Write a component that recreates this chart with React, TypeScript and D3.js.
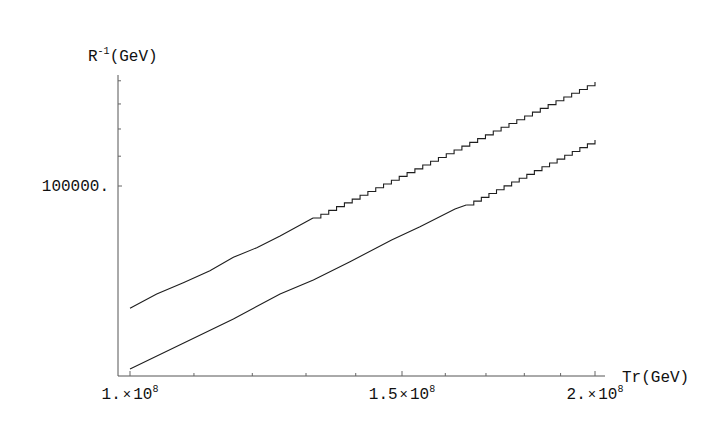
import * as d3 from "d3";

// Tr in units of 1e8 GeV, R^-1 in units of 1e3 GeV
const upperSmoothTr = [1.0, 1.0406, 1.0827, 1.1265, 1.1666, 1.208, 1.2507, 1.3137];
const upperSmoothR = [67.63, 70.79, 73.4, 76.27, 79.61, 82.09, 85.22, 90.28];

const upperStepTr = [
  1.3137, 1.3291, 1.3448, 1.3606, 1.3766, 1.3927, 1.4091, 1.4256, 1.4424, 1.4593,
  1.4765, 1.4938, 1.5114, 1.5291, 1.5471, 1.5653, 1.5837, 1.6023, 1.6211, 1.6401,
  1.6594, 1.679, 1.6987, 1.7186, 1.7388, 1.7593, 1.7799, 1.8009, 1.822, 1.8434,
  1.8651, 1.887, 1.9092, 1.9316, 1.9543, 1.9773, 2.0,
];
const upperStepR = [
  90.28, 91.38, 92.49, 93.61, 94.75, 95.9, 97.07, 98.25, 99.45, 100.66,
  101.88, 103.12, 104.37, 105.64, 106.93, 108.23, 109.54, 110.87, 112.22, 113.59,
  114.97, 116.37, 117.78, 119.21, 120.66, 122.13, 123.62, 125.12, 126.64, 128.18,
  129.74, 131.32, 132.91, 134.53, 136.17, 137.82, 139.5,
];

const lowerSmoothTr = [1.0, 1.1666, 1.2507, 1.3143, 1.3881, 1.4769, 1.5407, 1.6233, 1.6506];
const lowerSmoothR = [55.69, 65.36, 70.79, 74.03, 78.49, 84.14, 87.8, 92.91, 94.11];

const lowerStepTr = [
  1.6506, 1.6694, 1.6883, 1.7075, 1.7269, 1.7465, 1.7663, 1.7864, 1.8067, 1.8272,
  1.848, 1.869, 1.8902, 1.9117, 1.9334, 1.9553, 1.9775, 2.0,
];
const lowerStepR = [
  94.11, 95.27, 96.44, 97.62, 98.83, 100.04, 101.27, 102.52, 103.78, 105.05,
  106.34, 107.65, 108.97, 110.31, 111.67, 113.04, 114.43, 115.84,
];

const xLabelTicks = [1e8, 1.5e8, 2e8];
const xLabelMant = ["1.", "1.5", "2."];
const xMinorTicks = [1.1e8, 1.2e8, 1.3e8, 1.4e8, 1.6e8, 1.7e8, 1.8e8, 1.9e8];
const yLabelTicks = [1e5];
const yLabelText = ["100000."];
const yMinorTicks = [1.1e5, 1.2e5, 1.3e5, 1.4e5];

const W = 721;
const H = 436;
const axisX = 118;
const axisY = 376;
const mono = "'Liberation Mono', 'DejaVu Sans Mono', monospace";

export default function App() {
  const x = d3.scaleLog().domain([1e8, 2e8]).range([130, 595]);
  const y = d3.scaleLog().domain([1e5, 1.4e5]).range([186, 186 - 720 * Math.log10(1.4)]);

  const zip = (a: number[], b: number[]) => a.map((t, i) => [t * 1e8, b[i] * 1e3] as [number, number]);
  const smooth = d3.line<[number, number]>().x((d) => x(d[0])).y((d) => y(d[1]));
  const steps = d3
    .line<[number, number]>()
    .x((d) => x(d[0]))
    .y((d) => y(d[1]))
    .curve(d3.curveStepAfter);

  const lineStyle = { fill: "none", stroke: "#1e1e1e", strokeWidth: 1.1 };

  return (
    <svg
      width={W}
      height={H}
      style={{ position: "absolute", left: 0, top: 0, background: "#fff" }}
    >
      {/* axes */}
      <line x1={axisX} x2={605} y1={axisY} y2={axisY} stroke="#555" strokeWidth={1} />
      <line x1={axisX} x2={axisX} y1={75} y2={axisY} stroke="#555" strokeWidth={1} />

      {xLabelTicks.map((t) => (
        <line key={"xl" + t} x1={x(t)} x2={x(t)} y1={axisY} y2={axisY - 5} stroke="#666" />
      ))}
      {xMinorTicks.map((t) => (
        <line key={"xm" + t} x1={x(t)} x2={x(t)} y1={axisY} y2={axisY - 3} stroke="#666" />
      ))}
      {yLabelTicks.map((t) => (
        <line key={"yl" + t} x1={axisX} x2={axisX + 4} y1={y(t)} y2={y(t)} stroke="#666" />
      ))}
      {yMinorTicks.map((t) => (
        <line key={"ym" + t} x1={axisX} x2={axisX + 3} y1={y(t)} y2={y(t)} stroke="#666" />
      ))}

      {xLabelTicks.map((t, i) => (
        <text key={"xt" + t} x={x(t)} y={399} fontFamily={mono} fontSize={16} textAnchor="middle" fill="#111">
          <tspan>{xLabelMant[i]}</tspan>
          <tspan dx={2} fontSize={14}>×</tspan>
          <tspan dx={2}>10</tspan>
          <tspan dy={-7} fontSize={10}>8</tspan>
        </text>
      ))}
      {yLabelTicks.map((t, i) => (
        <text key={"yt" + t} x={109} y={y(t) + 5} fontFamily={mono} fontSize={16} textAnchor="end" fill="#111">
          {yLabelText[i]}
        </text>
      ))}

      <text x={622} y={382} fontFamily={mono} fontSize={16} fill="#111">
        Tr(GeV)
      </text>
      <text x={88} y={61} fontFamily={mono} fontSize={16} fill="#111">
        <tspan>R</tspan>
        <tspan dy={-7} fontSize={10}>-1</tspan>
        <tspan dy={7}>(GeV)</tspan>
      </text>

      {/* curves */}
      <path d={smooth(zip(upperSmoothTr, upperSmoothR)) ?? ""} style={lineStyle} />
      <path d={steps(zip(upperStepTr, upperStepR)) ?? ""} style={lineStyle} />
      <path d={smooth(zip(lowerSmoothTr, lowerSmoothR)) ?? ""} style={lineStyle} />
      <path d={steps(zip(lowerStepTr, lowerStepR)) ?? ""} style={lineStyle} />
    </svg>
  );
}
